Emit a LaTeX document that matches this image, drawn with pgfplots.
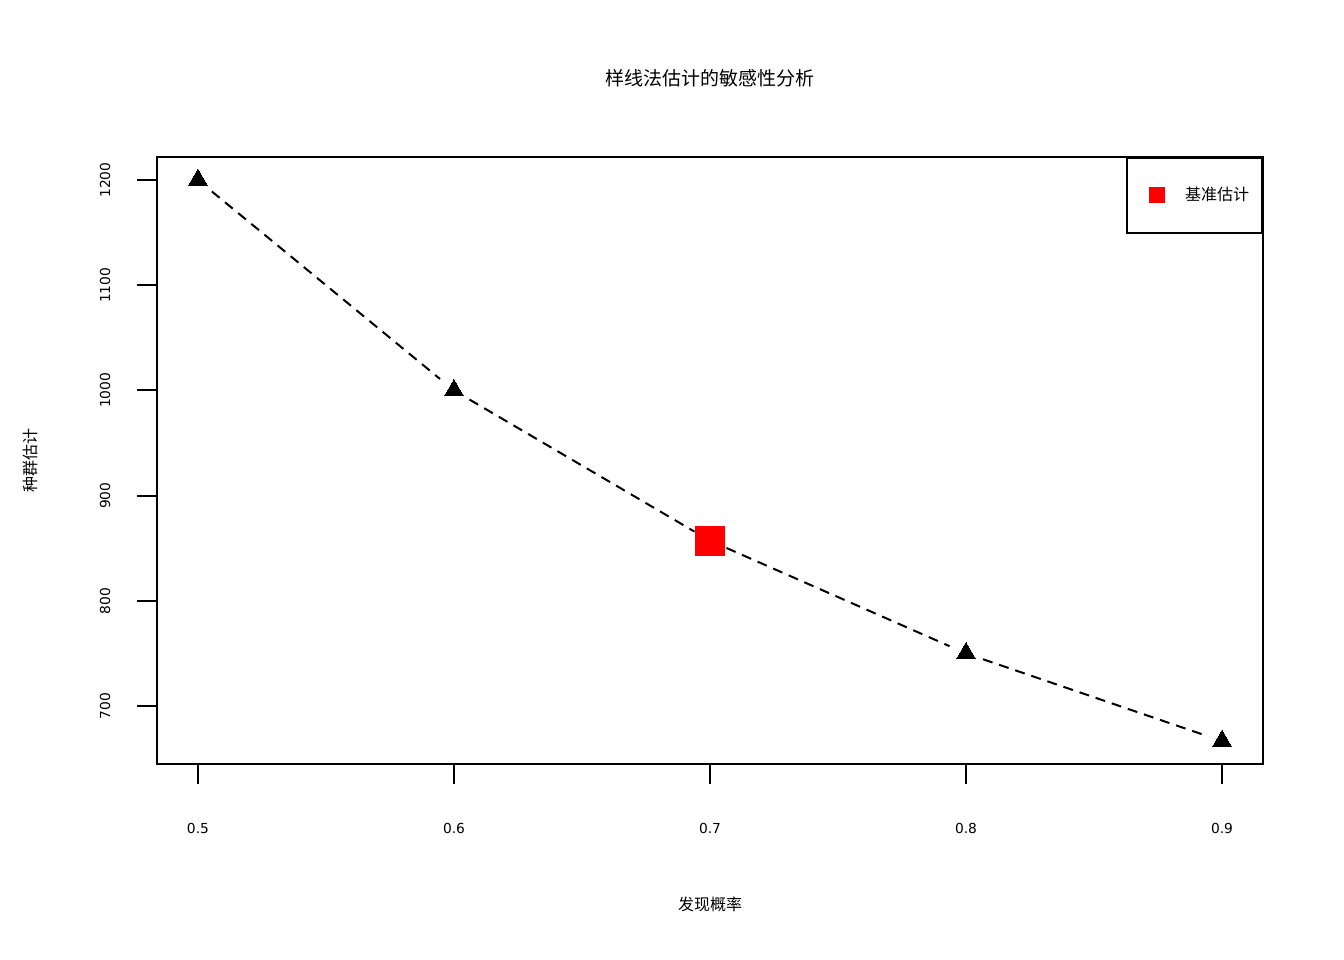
\documentclass[border=0pt]{standalone}
\usepackage{pgfplots}
\pgfplotsset{compat=1.18}
\usepackage{fontspec}
\setmainfont{DejaVu Sans}
\newfontfamily\cjk{Noto Sans CJK SC}
% 1 px of the reference = 0.5bp
\begin{document}
\begin{tikzpicture}
\path[use as bounding box] (0,0) rectangle (672bp,480bp);
\begin{axis}[
  at={(78.5bp,98bp)}, anchor=south west,
  scale only axis, width=553bp, height=303.5bp,
  xmin=0.484, xmax=0.916, ymin=644.9, ymax=1221.9,
  clip=false,
  axis line style={line width=1bp},
  xtick={0.5,0.6,0.7,0.8,0.9},
  xticklabels={0.5,0.6,0.7,0.8,0.9},
  ytick={700,800,900,1000,1100,1200},
  yticklabels={700,800,900,1000,1100,1200},
  tick align=outside, tick pos=left,
  major tick length=10bp,
  tick style={line width=1bp, black},
  tick label style={font=\fontsize{6.9bp}{8bp}\selectfont},
  xticklabel style={anchor=center, yshift=-22bp},
  yticklabel style={xshift=-16bp, rotate=90, anchor=center},
  legend style={at={(1,1)}, anchor=north east, draw=black, line width=1bp,
    inner xsep=6.5bp, inner ysep=14.75bp,
    font=\fontsize{8bp}{9bp}\cjk,
    nodes={inner sep=0pt, text height=6.5bp, text depth=1.5bp},
    /tikz/every odd column/.style={column sep=10bp}},
  legend image code/.code={\path (0bp,0bp);
    \fill[red] (4.5bp,-3.5bp) rectangle (11.5bp,3.5bp);},
]
% dashed line, cut short around each point
\pgfplotsset{seg/.style={black, line width=1bp, dash pattern=on 5bp off 3.5bp,
  shorten <=9bp, shorten >=9bp, mark=none, forget plot}}
\addplot[seg] coordinates {(0.5,1200) (0.6,1000)};
\addplot[seg] coordinates {(0.6,1000) (0.7,857.14)};
\addplot[seg] coordinates {(0.7,857.14) (0.8,750)};
\addplot[seg] coordinates {(0.8,750) (0.9,666.67)};
% triangles
\addplot[only marks, mark=triangle*, mark size=5.5bp,
  mark options={fill=black, draw=black, line width=0pt}, forget plot]
  coordinates {(0.5,1200) (0.6,1000) (0.7,857.14) (0.8,750) (0.9,666.67)};
% baseline estimate
\addplot[only marks, red, mark=square*, mark size=7.25bp,
  mark options={fill=red, draw=red, line width=0pt}]
  coordinates {(0.7,857.14)};
\addlegendentry{基准估计}

\node[font=\fontsize{9.5bp}{11bp}\cjk] at ([yshift=39.5bp]rel axis cs:0.5,1) {样线法估计的敏感性分析};
\node[font=\fontsize{8bp}{9bp}\cjk] at ([yshift=-70bp]rel axis cs:0.5,0) {发现概率};
\node[font=\fontsize{8bp}{9bp}\cjk, rotate=90] at ([xshift=-63.5bp]rel axis cs:0,0.5) {种群估计};
\end{axis}
\end{tikzpicture}
\end{document}
